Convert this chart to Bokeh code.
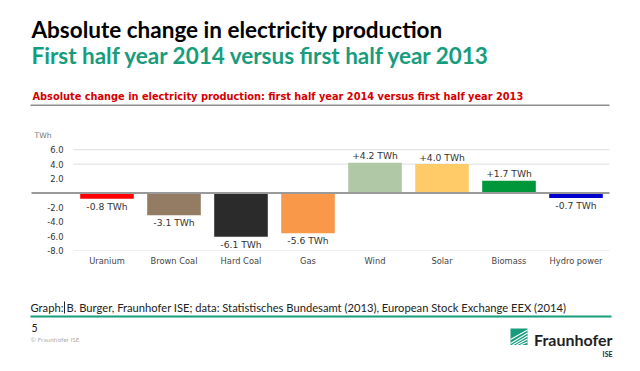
from bokeh.plotting import figure
from bokeh.models import Range1d, FixedTicker, PrintfTickFormatter, ColumnDataSource
from bokeh.layouts import column
from bokeh.core.properties import value
from bokeh.embed import file_html
from bokeh.resources import INLINE

# ---------------- data ----------------
categories = ["Uranium", "Brown Coal", "Hard Coal", "Gas", "Wind", "Solar", "Biomass", "Hydro power"]
changes_twh = [-0.8, -3.1, -6.1, -5.6, 4.2, 4.0, 1.7, -0.7]
bar_colors = ["#ff0000", "#947b63", "#2b2b2b", "#fa984a", "#b1c8a6", "#ffcb69", "#00963a", "#0000cc"]
y_ticks = [-8, -6, -4, -2, 2, 4, 6]
grid_values = [6, 4, -8]

title_main = "Absolute change in electricity production"
title_sub = "First half year 2014 versus first half year 2013"
chart_title = "Absolute change in electricity production: first half year 2014 versus first half year 2013"
unit_label = "TWh"
source_prefix = "Graph:"
source_text = "B. Burger, Fraunhofer ISE; data: Statistisches Bundesamt (2013), European Stock Exchange EEX (2014)"
page_number = "5"
copyright_text = "\u00a9 Fraunhofer ISE"
logo_text = "Fraunhofer"
logo_sub = "ISE"

GREEN = "#179c7d"
LATO = value("Lato")
DEJA = value("DejaVu Sans")

W = 638          # figure width (all three stacked figures)
BL, BR = 20, 18  # common left/right borders -> frame spans page x 20..620


def blank(height, top, bottom):
    f = figure(width=W, height=height, x_range=Range1d(BL, W - BR), y_range=Range1d(bottom, top),
               x_axis_location=None, y_axis_location=None, output_backend="svg",
               toolbar_location=None, min_border_left=BL, min_border_right=BR,
               min_border_top=0, min_border_bottom=0)
    f.xgrid.visible = False
    f.ygrid.visible = False
    f.outline_line_color = None
    return f


# ---------------- header ----------------
head = blank(140, 0, 140)
head.text(x=[31], y=[28.5], text=[title_main], text_font=LATO, text_font_size="22.5px",
          text_font_style="bold", text_color="#000000", text_baseline="middle")
head.text(x=[31], y=[54.5], text=[title_sub], text_font=LATO, text_font_size="22.5px",
          text_font_style="bold", text_color=GREEN, text_baseline="middle")
head.text(x=[32], y=[95.5], text=[chart_title], text_font=DEJA, text_font_size="9.8px",
          text_font_style="bold", text_color="#d40000", text_baseline="middle")
head.segment(x0=[30], y0=[104.8], x1=[609], y1=[104.8], line_color="#8c8c8c", line_width=1.5)
head.text(x=[34], y=[134.7], text=[unit_label], text_font=DEJA, text_font_size="7.6px",
          text_color="#777777", text_baseline="middle")

# ---------------- chart ----------------
n = len(categories)
BAND = 67.0                      # px per category
x_start = -(73 - BL) / BAND      # frame left edge (page x 20), categories start at page x 73
x_end = n + (W - BR - 609) / BAND
zero_left = -(73 - 31) / BAND    # zero line starts at page x 31

xs = [i + 0.5 for i in range(n)]
labels = [f"{v:+.1f} TWh" for v in changes_twh]
src = ColumnDataSource(dict(x=xs, top=changes_twh, color=bar_colors))
pos = ColumnDataSource(dict(x=[x for x, v in zip(xs, changes_twh) if v >= 0],
                            y=[v for v in changes_twh if v >= 0],
                            t=[l for l, v in zip(labels, changes_twh) if v >= 0]))
neg = ColumnDataSource(dict(x=[x for x, v in zip(xs, changes_twh) if v < 0],
                            y=[v for v in changes_twh if v < 0],
                            t=[l for l, v in zip(labels, changes_twh) if v < 0]))

chart = figure(width=W, height=132, x_range=Range1d(x_start, x_end), y_range=Range1d(-8, 7),
               output_backend="svg", toolbar_location=None,
               min_border_left=BL, min_border_right=BR, min_border_top=2, min_border_bottom=22)
chart.outline_line_color = None
chart.xgrid.visible = False
chart.ygrid.visible = False

chart.segment(x0=[0] * len(grid_values), x1=[n] * len(grid_values), y0=grid_values, y1=grid_values,
              line_color="#dedede", line_width=1)
chart.vbar(x="x", top="top", bottom=0, width=0.8, fill_color="color", line_color=None, source=src)
chart.segment(x0=[zero_left], x1=[n], y0=[0], y1=[0], line_color="#9a9a9a", line_width=2)

chart.text(x="x", y="y", text="t", source=pos, text_font=DEJA, text_font_size="9.2px",
           text_color="#333333", text_align="center", text_baseline="middle", y_offset=-7)
chart.text(x="x", y="y", text="t", source=neg, text_font=DEJA, text_font_size="9.2px",
           text_color="#333333", text_align="center", text_baseline="top", y_offset=2)

xa = chart.xaxis[0]
xa.ticker = FixedTicker(ticks=xs)
xa.major_label_overrides = {x: c for x, c in zip(xs, categories)}
xa.axis_line_color = None
xa.major_tick_line_color = None
xa.minor_tick_line_color = None
xa.major_tick_out = 0
xa.major_tick_in = 0
xa.major_label_standoff = 5
xa.major_label_text_font = "DejaVu Sans"
xa.major_label_text_font_size = "8.3px"
xa.major_label_text_color = "#444444"

ya = chart.yaxis[0]
ya.ticker = FixedTicker(ticks=y_ticks)
ya.formatter = PrintfTickFormatter(format="%.1f")
ya.axis_line_color = None
ya.major_tick_line_color = None
ya.minor_tick_line_color = None
ya.major_tick_out = 0
ya.major_tick_in = 0
ya.major_label_standoff = -(63 - BL)
ya.major_label_text_font = "DejaVu Sans"
ya.major_label_text_font_size = "8.4px"
ya.major_label_text_color = "#333333"

# ---------------- footer ----------------
foot = blank(98, 272, 370)
foot.text(x=[30], y=[306.5], text=[source_prefix], text_font=LATO, text_font_size="11.2px",
          text_color="#222222", text_baseline="middle")
foot.segment(x0=[64], y0=[301], x1=[64], y1=[313], line_color="#222222", line_width=1)
foot.text(x=[66], y=[306.5], text=[source_text], text_font=LATO, text_font_size="11.2px",
          text_color="#222222", text_baseline="middle")
foot.segment(x0=[30], y0=[316], x1=[611], y1=[316], line_color=GREEN, line_width=2)
foot.text(x=[31], y=[327.5], text=[page_number], text_font=LATO, text_font_size="10.5px",
          text_color="#222222", text_baseline="middle")
foot.text(x=[30], y=[339], text=[copyright_text], text_font=LATO, text_font_size="6.5px",
          text_color="#b0b0b0", text_baseline="middle")
# logo
foot.quad(left=[510], right=[527], top=[328], bottom=[344.5], fill_color=GREEN, line_color=None)
foot.segment(x0=[510, 510, 512, 516, 520], y0=[339, 343, 344.5, 344.5, 344.5],
             x1=[527, 527, 527, 527, 527], y1=[329.5, 332.5, 335.5, 338.5, 341.5],
             line_color="white", line_width=1.1)
foot.text(x=[612], y=[338.5], text=[logo_text], text_font=LATO, text_font_size="16px",
          text_font_style="bold", text_color="#1f1f1f", text_align="right", text_baseline="middle")
foot.text(x=[612], y=[353.5], text=[logo_sub], text_font=LATO, text_font_size="7px",
          text_font_style="bold", text_color="#1f1f1f", text_align="right", text_baseline="middle")

layout = column(head, chart, foot, spacing=0)
open("out.html", "w").write(file_html(layout, INLINE))
